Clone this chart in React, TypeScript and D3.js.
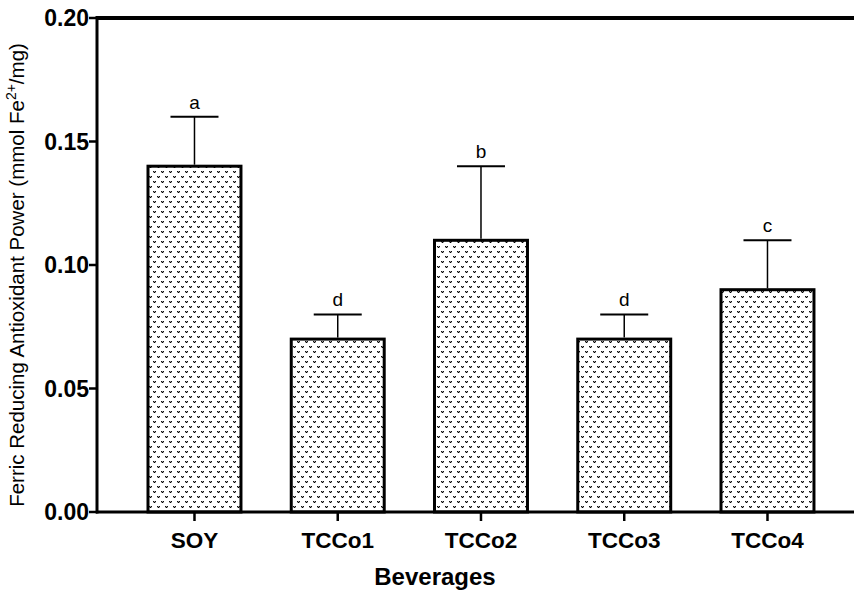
import React, { useEffect, useRef } from 'react';
import * as d3 from 'd3';

// values
const categories = ['SOY', 'TCCo1', 'TCCo2', 'TCCo3', 'TCCo4'];
const means = [0.14, 0.07, 0.11, 0.07, 0.09];
const errors = [0.02, 0.01, 0.03, 0.01, 0.02];
const letters = ['a', 'd', 'b', 'd', 'c'];
const yTicks = [0, 0.05, 0.1, 0.15, 0.2];

const W = 854;
const H = 595;
const margin = { top: 18, left: 97, bottom: 83 };
const FONT = 'Liberation Sans, Arial, sans-serif';

export default function App() {
  const ref = useRef<SVGSVGElement>(null);

  useEffect(() => {
    const svg = d3.select(ref.current);
    svg.selectAll('*').remove();

    const y0 = H - margin.bottom;
    const y = d3.scaleLinear().domain([0, 0.2]).range([y0, margin.top]);
    const x = d3.scaleBand<string>()
      .domain(categories)
      .range([margin.left - 1, margin.left - 1 + 143.25 * 5.375])
      .paddingInner(0.351)
      .paddingOuter(0.363);

    // dotted fill pattern (small "v" marks)
    const defs = svg.append('defs');
    const pat = defs.append('pattern')
      .attr('id', 'dots')
      .attr('patternUnits', 'userSpaceOnUse')
      .attr('width', 8)
      .attr('height', 10);
    pat.append('rect').attr('width', 8).attr('height', 10).attr('fill', '#fff');
    [[1, 1], [5, 6]].forEach(([ox, oy]) => {
      [[0, 0, '#111'], [2, 0, '#111'], [1, 1, '#000'], [1, 0, '#999'], [0, 1, '#aaa'], [2, 1, '#aaa']].forEach(([dx, dy, c]) => {
        pat.append('rect')
          .attr('x', ox + (dx as number)).attr('y', oy + (dy as number))
          .attr('width', 1).attr('height', 1)
          .attr('fill', c as string);
      });
    });

    const g = svg.append('g');

    // bars
    g.selectAll('rect.bar').data(means).enter().append('rect')
      .attr('class', 'bar')
      .attr('x', (d, i) => x(categories[i])!)
      .attr('y', d => y(d))
      .attr('width', x.bandwidth())
      .attr('height', d => y0 - y(d))
      .attr('fill', 'url(#dots)')
      .attr('stroke', '#000')
      .attr('stroke-width', 3);

    // error bars
    const cap = 24;
    means.forEach((m, i) => {
      const cx = x(categories[i])! + x.bandwidth() / 2;
      const top = y(m + errors[i]);
      g.append('line')
        .attr('x1', cx).attr('x2', cx)
        .attr('y1', y(m) - 1.5).attr('y2', top)
        .attr('stroke', '#000').attr('stroke-width', 1.5);
      g.append('line')
        .attr('x1', cx - cap).attr('x2', cx + cap)
        .attr('y1', top).attr('y2', top)
        .attr('stroke', '#000').attr('stroke-width', 2);
      g.append('text')
        .attr('x', cx).attr('y', top - 8)
        .attr('text-anchor', 'middle')
        .attr('font-family', FONT)
        .attr('font-size', 19)
        .text(letters[i]);
    });

    // x axis line and ticks
    g.append('line')
      .attr('x1', margin.left - 1).attr('x2', W)
      .attr('y1', y0).attr('y2', y0)
      .attr('stroke', '#000').attr('stroke-width', 3);
    categories.forEach(c => {
      const cx = x(c)! + x.bandwidth() / 2;
      g.append('line')
        .attr('x1', cx).attr('x2', cx)
        .attr('y1', y0).attr('y2', y0 + 9)
        .attr('stroke', '#000').attr('stroke-width', 2.5);
      g.append('text')
        .attr('x', cx).attr('y', y0 + 36)
        .attr('text-anchor', 'middle')
        .attr('font-family', FONT)
        .attr('font-weight', 'bold')
        .attr('font-size', 22.5)
        .text(c);
    });

    // top frame line
    g.append('line')
      .attr('x1', margin.left - 1).attr('x2', W)
      .attr('y1', y(0.2)).attr('y2', y(0.2))
      .attr('stroke', '#000').attr('stroke-width', 4);

    // y axis
    g.append('line')
      .attr('x1', margin.left).attr('x2', margin.left)
      .attr('y1', y(0.2) - 2).attr('y2', y0 + 1.5)
      .attr('stroke', '#000').attr('stroke-width', 3);
    yTicks.forEach(t => {
      g.append('line')
        .attr('x1', margin.left - 8).attr('x2', margin.left)
        .attr('y1', y(t)).attr('y2', y(t))
        .attr('stroke', '#000').attr('stroke-width', 2.5);
      g.append('text')
        .attr('x', margin.left - 8).attr('y', y(t) + 8)
        .attr('text-anchor', 'end')
        .attr('font-family', FONT)
        .attr('font-weight', 'bold')
        .attr('font-size', 23)
        .text(d3.format('.2f')(t));
    });

    // axis titles
    const yt = g.append('text')
      .attr('transform', `translate(24,${(y0 + margin.top) / 2 + 10}) rotate(-90)`)
      .attr('text-anchor', 'middle')
      .attr('font-family', FONT)
      .attr('font-size', 20.5);
    yt.append('tspan').text('Ferric Reducing Antioxidant Power (mmol Fe');
    yt.append('tspan').attr('dy', -8).attr('font-size', 14).text('2+');
    yt.append('tspan').attr('dy', 8).text('/mg)');

    g.append('text')
      .attr('x', 435).attr('y', 585)
      .attr('text-anchor', 'middle')
      .attr('font-family', FONT)
      .attr('font-weight', 'bold')
      .attr('font-size', 24)
      .text('Beverages');
  }, []);

  return (
    <svg
      ref={ref}
      width={W}
      height={H}
      style={{ position: 'absolute', left: 0, top: 0, background: '#fff' }}
    />
  );
}
